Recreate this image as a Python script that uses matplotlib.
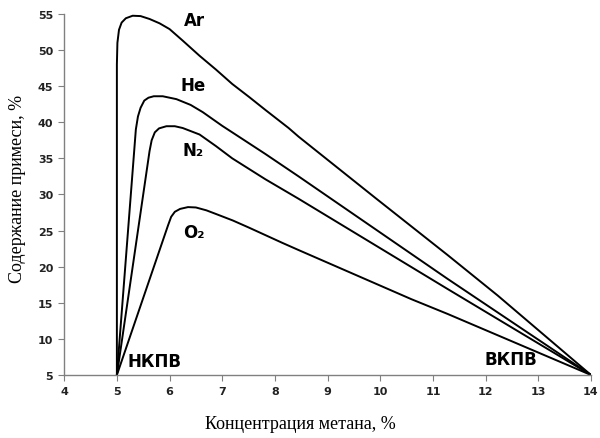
import matplotlib
matplotlib.use("Agg")
import matplotlib.pyplot as plt

# curves (methane %, impurity %)
ar_x = [5.0, 5.0, 5.01, 5.04, 5.09, 5.17, 5.3, 5.45, 5.62, 5.81, 6.0, 6.25, 6.57, 6.88, 7.19, 7.51, 7.82, 8.26, 8.45, 9.91, 11.28, 12.23, 14.0]
ar_y = [5.0, 48.0, 51.0, 52.8, 53.8, 54.4, 54.75, 54.7, 54.3, 53.7, 52.9, 51.3, 49.2, 47.3, 45.3, 43.5, 41.7, 39.2, 38.0, 29.5, 21.6, 16.0, 5.0]

he_x = [5.0, 5.36, 5.40, 5.45, 5.52, 5.6, 5.7, 5.87, 6.13, 6.4, 6.63, 7.0, 7.19, 7.82, 8.45, 11.28, 14.0]
he_y = [5.0, 39.0, 40.8, 42.0, 43.0, 43.4, 43.6, 43.6, 43.2, 42.4, 41.4, 39.5, 38.6, 35.6, 32.5, 18.3, 5.0]

n2_x = [5.0, 5.62, 5.66, 5.72, 5.8, 5.94, 6.1, 6.25, 6.57, 6.88, 7.19, 7.82, 8.45, 11.28, 14.0]
n2_y = [5.0, 36.0, 37.5, 38.6, 39.15, 39.45, 39.45, 39.2, 38.3, 36.7, 35.0, 32.1, 29.4, 16.9, 5.0]

o2_x = [5.0, 5.97, 6.03, 6.1, 6.2, 6.35, 6.5, 6.7, 6.88, 7.2, 7.51, 8.14, 8.45, 10.59, 11.28, 14.0]
o2_y = [5.0, 25.7, 26.9, 27.6, 28.0, 28.25, 28.2, 27.8, 27.3, 26.4, 25.4, 23.3, 22.3, 15.5, 13.45, 5.0]

x_ticks = list(range(4, 15))
y_ticks = list(range(5, 56, 5))

fig = plt.figure(figsize=(6, 4.39), dpi=100)
ax = fig.add_axes([0.107, 0.1435, 0.878, 0.8225])

for xs, ys in [(ar_x, ar_y), (he_x, he_y), (n2_x, n2_y), (o2_x, o2_y)]:
    ax.plot(xs, ys, color="black", lw=1.4, solid_joinstyle="round")

ax.set_xlim(4, 14)
ax.set_ylim(5, 55)
ax.set_xticks(x_ticks)
ax.set_yticks(y_ticks)

for s in ["top", "right"]:
    ax.spines[s].set_visible(False)
for s in ["left", "bottom"]:
    ax.spines[s].set_color("#808080")
    ax.spines[s].set_linewidth(1.0)
ax.tick_params(direction="out", length=4, color="#808080", labelsize=8, pad=4)
for lab in ax.get_xticklabels() + ax.get_yticklabels():
    lab.set_fontweight("bold")
    lab.set_color("#222222")

lbl = dict(fontsize=12, fontweight="bold", ha="center", va="center", family="DejaVu Sans")
ax.text(6.47, 54.1, "Ar", **lbl)
ax.text(6.44, 45.2, "He", **lbl)
ax.text(6.44, 36.1, "N₂", **lbl)
ax.text(6.47, 24.8, "O₂", **lbl)
ax.text(5.72, 7.0, "НКПВ", **lbl)
ax.text(12.47, 7.2, "ВКПВ", **lbl)

fig.text(0.5, 0.032, "Концентрация метана, %", ha="center", va="center",
         family="Liberation Serif", fontsize=13)
fig.text(0.03, 0.57, "Содержание примеси, %", ha="center", va="center",
         rotation=90, family="Liberation Serif", fontsize=13)

fig.savefig("out.png", dpi=100)
